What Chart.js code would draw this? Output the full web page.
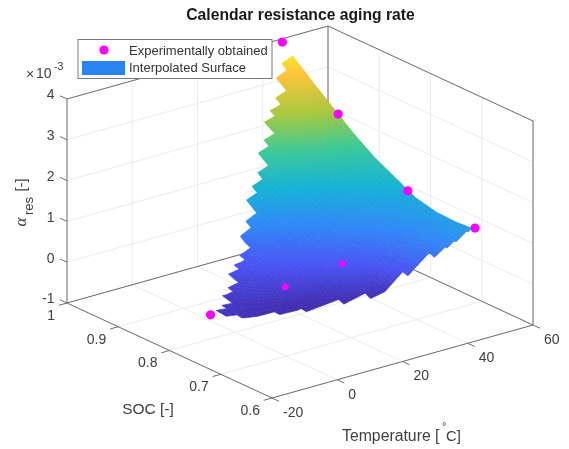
<!DOCTYPE html>
<html><head><meta charset="utf-8">
<style>html,body{margin:0;padding:0;background:#fff}canvas{display:block;filter:blur(0.45px)}</style>
<script src="https://cdn.jsdelivr.net/npm/chart.js@4"></script>
</head><body><canvas id="c" width="569" height="449"></canvas>
<script>
// ---- data ----
const titleText = 'Calendar resistance aging rate';
const legendLabels = ['Experimentally obtained', 'Interpolated Surface'];
const temperatureTicks = [-20, 0, 20, 40, 60];
const socTicks = [0.6, 0.7, 0.8, 0.9, 1];
const alphaTicks = [-1, 0, 1, 2, 3, 4];
const socTickLabels = ['0.6', '0.7', '0.8', '0.9', '1'];
// experimental points
const pointTemperature = [46, 46, 46, 46, -20, 4.8, 19.4];
const pointSoc = [1, 0.891, 0.755, 0.624, 0.72, 0.732, 0.714];
const pointAlpha = [3.92, 2.79, 1.70, 1.55, 0.34, 0.40, 0.75];
const pointSizes = [4.6, 4.6, 4.6, 4.6, 4.6, 3.4, 3.2];
// surface read-off table (alpha x 1e3), rows = SOC, columns = temperature
const tableTemperature = [-20, -9, 2, 13, 24, 35, 46];
const tableSoc = [0.62, 0.66, 0.70, 0.74, 0.78, 0.82, 0.86, 0.90, 0.94, 0.98, 1.0];
const tableRow062 = [0.30, 0.15, 0.10, 0.08, 0.15, 0.80, 1.52];
const tableRow066 = [0.30, 0.15, 0.10, 0.10, 0.27, 1.00, 1.48];
const tableRow070 = [0.32, 0.17, 0.15, 0.32, 0.62, 1.10, 1.50];
const tableRow074 = [0.35, 0.28, 0.42, 0.62, 0.95, 1.30, 1.62];
const tableRow078 = [0.50, 0.42, 0.60, 0.85, 1.20, 1.55, 1.88];
const tableRow082 = [0.80, 0.70, 0.75, 1.20, 1.55, 1.85, 2.14];
const tableRow086 = [1.10, 1.00, 1.20, 1.60, 1.95, 2.30, 2.48];
const tableRow090 = [1.40, 1.40, 1.70, 2.00, 2.33, 2.65, 2.88];
const tableRow094 = [1.80, 1.80, 2.10, 2.40, 2.70, 2.93, 3.28];
const tableRow098 = [2.20, 2.20, 2.50, 2.80, 3.10, 3.30, 3.70];
const tableRow100 = [2.40, 2.40, 2.70, 3.00, 3.30, 3.60, 3.92];
const tableRows = [tableRow062, tableRow066, tableRow070, tableRow074, tableRow078, tableRow082,
                   tableRow086, tableRow090, tableRow094, tableRow098, tableRow100];
// outline of the measured region (temperature, SOC)
const hullLeft = [-20, 0.72];
const hullTop = [46, 1];
const hullLower = [-20, 0.708];
const hullRight = [46, 0.628];
const meshStepT = 3.3, meshStepS = 0.01;
const firstColumn = 1;
const fineEdgeFrom = 33;
const colorLimits = [0.1, 3.95];
const parula = [[62,38,168],[72,82,244],[46,135,247],[18,177,214],[55,200,151],[171,199,57],[254,195,56],[249,251,21]];

// ---- orthographic view of the box ----
const view = {ox:272, oy:398, tx:261, ty:-73, sx:-205, sy:-95, zh:204};
const TMIN=-20,TMAX=60,SMIN=0.6,SMAX=1,ZMIN=-1,ZMAX=4;
function project(T,s,z){
  const a=(T-TMIN)/(TMAX-TMIN), b=(s-SMIN)/(SMAX-SMIN), c=(z-ZMIN)/(ZMAX-ZMIN);
  return {x:view.ox+a*view.tx+b*view.sx, y:view.oy+a*view.ty+b*view.sy-c*view.zh};
}
function seg(list,p,q){list.push(p,q,{x:null,y:null});}

// grid lines on the floor and the two back walls
const gridData=[];
temperatureTicks.forEach(T=>{seg(gridData,project(T,SMIN,ZMIN),project(T,SMAX,ZMIN));seg(gridData,project(T,SMAX,ZMIN),project(T,SMAX,ZMAX));});
socTicks.forEach(s=>{seg(gridData,project(TMIN,s,ZMIN),project(TMAX,s,ZMIN));seg(gridData,project(TMAX,s,ZMIN),project(TMAX,s,ZMAX));});
alphaTicks.forEach(z=>{seg(gridData,project(TMIN,SMAX,z),project(TMAX,SMAX,z));seg(gridData,project(TMAX,SMIN,z),project(TMAX,SMAX,z));});
// box and ticks
const boxData=[];
[[TMIN,SMAX],[TMAX,SMAX],[TMAX,SMIN]].forEach(c=>seg(boxData,project(c[0],c[1],ZMIN),project(c[0],c[1],ZMAX)));
seg(boxData,project(TMIN,SMAX,ZMAX),project(TMAX,SMAX,ZMAX));
seg(boxData,project(TMAX,SMAX,ZMAX),project(TMAX,SMIN,ZMAX));
seg(boxData,project(TMIN,SMAX,ZMIN),project(TMAX,SMAX,ZMIN));
seg(boxData,project(TMAX,SMAX,ZMIN),project(TMAX,SMIN,ZMIN));
seg(boxData,project(TMIN,SMAX,ZMIN),project(TMIN,SMIN,ZMIN));
seg(boxData,project(TMIN,SMIN,ZMIN),project(TMAX,SMIN,ZMIN));
alphaTicks.forEach(z=>seg(boxData,project(TMIN,SMAX,z),project(TMIN,SMAX+0.0137,z)));
socTicks.forEach(s=>seg(boxData,project(TMIN,s,ZMIN),project(TMIN-2.5,s,ZMIN)));
temperatureTicks.forEach(T=>seg(boxData,project(T,SMIN,ZMIN),project(T,SMIN-0.0137,ZMIN)));

const markerData=pointAlpha.map((z,i)=>project(pointTemperature[i],pointSoc[i],z));
const tableNodes=[];
tableRows.forEach((row,j)=>row.forEach((z,i)=>tableNodes.push(project(tableTemperature[i],tableSoc[j],z))));

function readTable(T,s){
  const loc=(arr,v)=>{let i=0;while(i<arr.length-2&&v>arr[i+1])i++;return [i,Math.min(1,Math.max(0,(v-arr[i])/(arr[i+1]-arr[i])))];};
  const [i,u]=loc(tableTemperature,T),[j,w]=loc(tableSoc,s);
  const r0=tableRows[j],r1=tableRows[j+1];
  return (r0[i]*(1-u)+r0[i+1]*u)*(1-w)+(r1[i]*(1-u)+r1[i+1]*u)*w;
}
function belowTop(T,s){const f=(T-hullLeft[0])/(hullTop[0]-hullLeft[0]);return T>=hullLeft[0]-1e-6&&T<=hullTop[0]+1e-6&&s<=hullLeft[1]+f*(hullTop[1]-hullLeft[1])+1e-6;}
function aboveBottom(T,s){const f=(T-hullLower[0])/(hullRight[0]-hullLower[0]);return s>=hullLower[1]+f*(hullRight[1]-hullLower[1])-1e-6;}
function colour(z){
  let t=(z-colorLimits[0])/(colorLimits[1]-colorLimits[0]);t=Math.max(0,Math.min(1,t))*(parula.length-1);
  const i=Math.min(parula.length-2,Math.floor(t)),f=t-i,a=parula[i],b=parula[i+1];
  return 'rgb('+[0,1,2].map(k=>Math.round(a[k]+(b[k]-a[k])*f)).join(',')+')';
}
function drawSurface(chart){
  const ctx=chart.ctx,X=chart.scales.x,Y=chart.scales.y;
  const px=(T,s)=>{const p=project(T,s,readTable(T,s));return [X.getPixelForValue(p.x),Y.getPixelForValue(p.y)];};
  const nT=Math.round((hullTop[0]-hullLeft[0])/meshStepT), nS=Math.round((SMAX-SMIN)/meshStepS);
  const subT=3,subS=3;
  ctx.save();ctx.lineWidth=0.6;ctx.lineJoin='round';
  for(let i=nT-1;i>=firstColumn;i--)for(let j=nS-1;j>=0;j--){
    const T0=hullLeft[0]+i*meshStepT,T1=T0+meshStepT,s0=SMIN+j*meshStepS,s1=s0+meshStepS;
    if(!(belowTop(T0,s1)&&belowTop(T1,s1)&&belowTop(T0,s0)&&belowTop(T1,s0)))continue;
    const fine=T0>=fineEdgeFrom;
    if(!fine&&!(aboveBottom(T0,s0)&&aboveBottom(T1,s0)))continue;
    for(let a=subT-1;a>=0;a--)for(let b=subS-1;b>=0;b--){
      const ta=T0+(T1-T0)*a/subT,tb=T0+(T1-T0)*(a+1)/subT,sa=s0+(s1-s0)*b/subS,sb=s0+(s1-s0)*(b+1)/subS;
      if(fine&&!(aboveBottom(ta,sa)&&aboveBottom(tb,sa)))continue;
      const c=colour(readTable((ta+tb)/2,(sa+sb)/2));
      ctx.fillStyle=c;ctx.strokeStyle=c;ctx.beginPath();
      let p=px(ta,sa);ctx.moveTo(p[0],p[1]);p=px(tb,sa);ctx.lineTo(p[0],p[1]);
      p=px(tb,sb);ctx.lineTo(p[0],p[1]);p=px(ta,sb);ctx.lineTo(p[0],p[1]);ctx.closePath();ctx.fill();ctx.stroke();
    }
  }
  ctx.restore();
}
const INK='#404040',FONT='"Liberation Sans",Arial,sans-serif';
function label(ctx,t,x,y,size,align,extra){ctx.font=(extra||'')+size+'px '+FONT;ctx.textAlign=align||'left';ctx.textBaseline='middle';ctx.fillText(t,x,y);}
const overlay={id:'overlay',
  beforeDatasetDraw(chart,args){if(chart.data.datasets[args.index].label===legendLabels[1])drawSurface(chart);},
  afterDraw(chart){
    const ctx=chart.ctx;ctx.save();ctx.fillStyle=INK;
    alphaTicks.forEach(z=>{const p=project(TMIN,SMAX,z);label(ctx,String(z),p.x-12.5,p.y-3.5,14,'right');});
    socTicks.forEach((s,i)=>{const p=project(TMIN,s,ZMIN);label(ctx,socTickLabels[i],p.x-12,p.y+13,14,'right');});
    temperatureTicks.forEach(T=>{const p=project(T,SMIN,ZMIN);label(ctx,String(T),p.x+11,p.y+15,14,'left');});
    label(ctx,'SOC [-]',148,410,15.5,'center');
    label(ctx,'Temperature [',342,437,15.8,'left');
    label(ctx,'\u00B0',442,427,11,'left');
    label(ctx,'C]',446,437,14.8,'left');
    label(ctx,'\u00D7',26,75,14,'left');
    label(ctx,'10',36,74,14,'left');
    label(ctx,'-3',54,67,10.5,'left');
    ctx.save();ctx.translate(22,185);ctx.rotate(-Math.PI/2);label(ctx,'[-]',0,0,14.5,'center');ctx.restore();
    ctx.save();ctx.translate(29,206);ctx.rotate(-Math.PI/2);label(ctx,'res',0,0,13,'center');ctx.restore();
    ctx.save();ctx.translate(22,222);ctx.rotate(-Math.PI/2);ctx.font='italic 17px "Liberation Serif",serif';ctx.textAlign='center';ctx.textBaseline='middle';ctx.fillText('\u03B1',0,0);ctx.restore();
    // legend box
    ctx.fillStyle='#fff';ctx.strokeStyle='#7a7a7a';ctx.lineWidth=1;
    ctx.fillRect(78,39.5,194,39);ctx.strokeRect(78,39.5,194,39);
    ctx.fillStyle='#ff00ff';ctx.beginPath();ctx.arc(104,50,4.6,0,Math.PI*2);ctx.fill();
    ctx.fillStyle='#2a83ee';ctx.fillRect(82,61,43,14);
    ctx.fillStyle='#333';
    label(ctx,legendLabels[0],129,51,13,'left');
    label(ctx,legendLabels[1],129,68.5,13,'left');
    ctx.restore();
  }};
new Chart(document.getElementById('c'),{
  type:'scatter',
  data:{datasets:[
    {label:legendLabels[0],data:markerData,pointRadius:pointSizes,pointBackgroundColor:'#ff00ff',pointBorderWidth:0,showLine:false},
    {label:legendLabels[1],data:tableNodes,pointRadius:0,showLine:false},
    {label:'box',data:boxData,showLine:true,pointRadius:0,borderColor:'#6e6e6e',borderWidth:1,spanGaps:false},
    {label:'grid',data:gridData,showLine:true,pointRadius:0,borderColor:'#ebebeb',borderWidth:1,spanGaps:false}
  ]},
  options:{responsive:false,animation:false,
    layout:{autoPadding:false,padding:{left:32,right:0,top:0,bottom:0}},
    plugins:{legend:{display:false},tooltip:{enabled:false},
      title:{display:true,text:titleText,color:'#1a1a1a',font:{family:FONT,size:15.7,weight:'bold',lineHeight:'16px'},padding:{top:8,bottom:1}}},
    scales:{x:{type:'linear',display:false,min:32,max:569},y:{type:'linear',display:false,min:25,max:449,reverse:true}}
  },
  plugins:[overlay]
});
</script></body></html>
